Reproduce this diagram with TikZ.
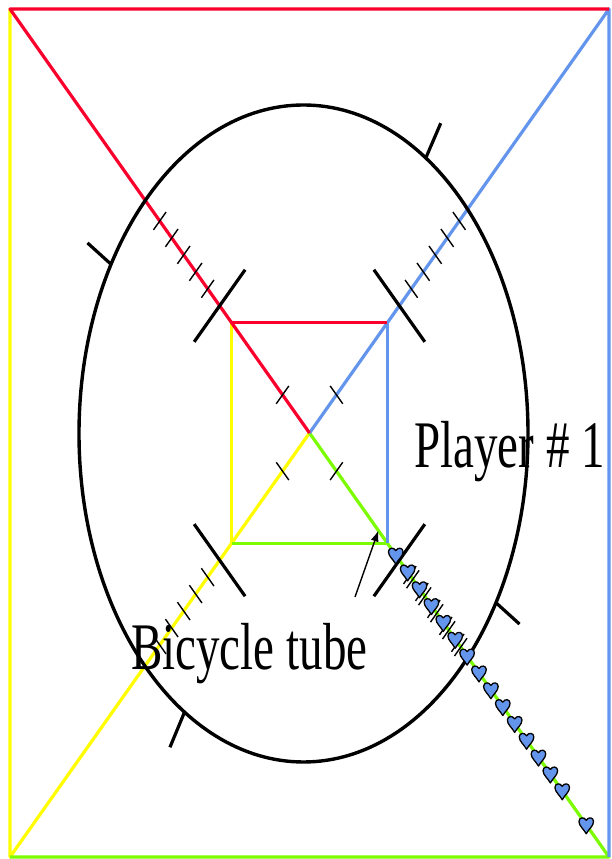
\documentclass[tikz,border=0pt]{standalone}
\usepackage{fontspec}
\usepackage{graphicx}
\setmainfont{Liberation Serif}
\usetikzlibrary{calc,arrows.meta}
\definecolor{cred}{RGB}{250,0,45}
\definecolor{cblue}{RGB}{100,149,237}
\definecolor{cyellow}{RGB}{255,255,0}
\definecolor{cgreen}{RGB}{124,252,0}
\tikzset{
  edge/.style={line width=3.2pt, line join=round},
  longtick/.style={line width=3.2pt, black},
  smalltick/.style={line width=1.4pt, black},
  lbl/.style={inner sep=0pt, font=\fontsize{47}{50}\selectfont},
  heart/.pic={\draw[black, line width=1.3pt, fill=cblue, line join=round, scale=1.12]
    (0,-8) .. controls (-2.5,-3.5) and (-6.5,-1) .. (-6.5,3)
    .. controls (-6.5,6.5) and (-2,7.5) .. (0,4)
    .. controls (2,7.5) and (6.5,6.5) .. (6.5,3)
    .. controls (6.5,-1) and (2.5,-3.5) .. (0,-8) -- cycle;}
}
\begin{document}
\begin{tikzpicture}[x=1pt,y=1pt]
\useasboundingbox (0,0) rectangle (611,859);
% outer corners and centre
\coordinate (TL) at (10,850);
\coordinate (TR) at (609,850);
\coordinate (BR) at (609,2);
\coordinate (BL) at (10,2);
\coordinate (C) at (309.5,426);
\coordinate (u) at (299.5,424);
\coordinate (v) at (299.5,-424);
% inner corners
\coordinate (iTL) at ($(C)!0.26!(TL)$);
\coordinate (iTR) at ($(C)!0.26!(TR)$);
\coordinate (iBR) at ($(C)!0.26!(BR)$);
\coordinate (iBL) at ($(C)!0.26!(BL)$);
% coloured paths
\draw[edge,cyellow] (TL) -- (BL) -- (C);
\draw[edge,cyellow] (iBL) -- (iTL);
\draw[edge,cgreen] (BL) -- (BR) -- (C);
\draw[edge,cgreen] (iBR) -- (iBL);
\draw[edge,cblue] (BR) -- (TR) -- (C);
\draw[edge,cblue] (iTR) -- (iBR);
\draw[edge,cred] (TR) -- (TL) -- (C);
\draw[edge,cred] (iTL) -- (iTR);
% ellipse (bicycle tube)
\coordinate (E) at (303.5,425.5);
\draw[line width=3.4pt] (E) ellipse [x radius=224.5, y radius=328.5];
\foreach \t in {57,149,238,329}
  \draw[longtick] ({303.5+224.5*cos(\t)},{425.5+328.5*sin(\t)}) -- ({303.5+252*cos(\t)},{425.5+370*sin(\t)});
% ticks on diagonals
\foreach \cn/\dv in {TL/u, TR/v, BR/u, BL/v} {
  \draw[longtick] ($(C)!0.30!(\cn)+0.085*(\dv)$) -- ($(C)!0.30!(\cn)-0.085*(\dv)$);
  \draw[smalltick] ($(C)!0.09!(\cn)+0.021*(\dv)$) -- ($(C)!0.09!(\cn)-0.021*(\dv)$);
}
\foreach \cn/\dv in {TL/u, TR/v, BL/v} {
  \foreach \s in {0.34,0.38,0.42,0.46,0.50}
    \draw[smalltick] ($(C)!\s!(\cn)+0.021*(\dv)$) -- ($(C)!\s!(\cn)-0.021*(\dv)$);
}
\foreach \s in {0.34,0.38,0.42,0.46,0.50} {
  \draw[smalltick] ($(C)!{\s-0.005}!(BR)+0.021*(u)$) -- ($(C)!{\s-0.005}!(BR)-0.021*(u)$);
  \draw[smalltick] ($(C)!{\s+0.005}!(BR)+0.021*(u)$) -- ($(C)!{\s+0.005}!(BR)-0.021*(u)$);
}
% hearts
\foreach \k in {0,...,14}
  \pic at ($(C)!{0.288+0.0397*\k}!(BR)$) {heart};
\pic at ($(C)!0.924!(BR)$) {heart};
% arrow
\coordinate (arrS) at (355,262);
\coordinate (arrT) at ($(C)!0.23!(BR)$);
\draw[-{Latex[length=11pt,width=8pt]}, line width=1.4pt] (arrS) -- (arrT);
% labels
\node[lbl, anchor=base west] (player) at (414,391) {\scalebox{1}[1.416]{Player \# 1}};
\node[lbl, anchor=base west] (tube) at (131,189) {\scalebox{1}[1.416]{Bicycle tube}};
\end{tikzpicture}
\end{document}
